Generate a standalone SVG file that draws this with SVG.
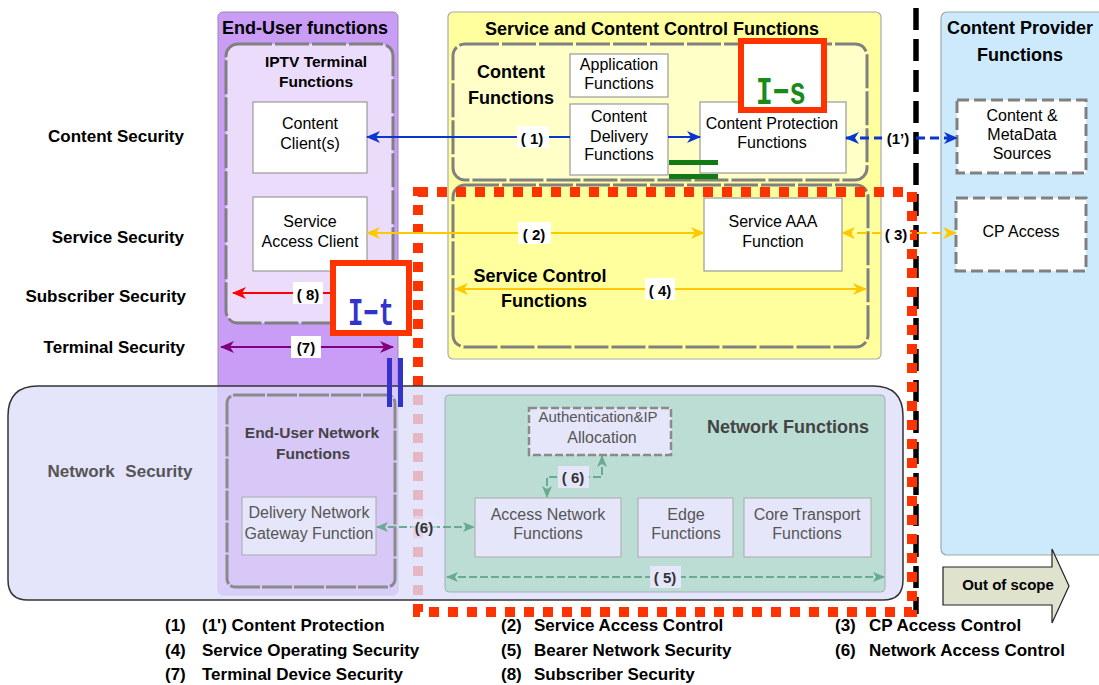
<svg xmlns="http://www.w3.org/2000/svg" width="1099" height="685" viewBox="0 0 1099 685">
<style>
text{font-family:"Liberation Sans",Arial,sans-serif;fill:#000}
.t{font-weight:bold;font-size:18px;text-anchor:middle}
.ts{font-weight:bold;font-size:15.5px;text-anchor:middle}
.n{font-size:16px;text-anchor:middle}
.lab{font-weight:bold;font-size:17px}
.al{font-weight:bold;font-size:15px;text-anchor:middle}
.box{fill:#fff;stroke:#999;stroke-width:1.2}
.dash{stroke:#808080;stroke-width:3;stroke-dasharray:34 3}
.gr{fill:#555}
.nb{fill:#e6e6fb;stroke:#aaa;stroke-width:1}
.lb{fill:#fff}
.big{font-family:"Liberation Mono","DejaVu Sans Mono",monospace;font-weight:bold;font-size:38px;text-anchor:middle}
</style>
<defs>
<marker id="mb" markerUnits="userSpaceOnUse" markerWidth="14" markerHeight="12" refX="13" refY="6" orient="auto-start-reverse"><path d="M0,0 L14,6 L0,12 L4,6 z" fill="#0a36d0"/></marker>
<marker id="my" markerUnits="userSpaceOnUse" markerWidth="14" markerHeight="12" refX="13" refY="6" orient="auto-start-reverse"><path d="M0,0 L14,6 L0,12 L4,6 z" fill="#ffc800"/></marker>
<marker id="mr" markerUnits="userSpaceOnUse" markerWidth="14" markerHeight="12" refX="13" refY="6" orient="auto-start-reverse"><path d="M0,0 L14,6 L0,12 L4,6 z" fill="#ff0000"/></marker>
<marker id="mp" markerUnits="userSpaceOnUse" markerWidth="14" markerHeight="12" refX="13" refY="6" orient="auto-start-reverse"><path d="M0,0 L14,6 L0,12 L4,6 z" fill="#800080"/></marker>
<marker id="mg" markerUnits="userSpaceOnUse" markerWidth="12" markerHeight="10" refX="11" refY="5" orient="auto-start-reverse"><path d="M0,0 L12,5 L0,10 L3,5 z" fill="#6aaa92"/></marker>
</defs>

<!-- left labels -->
<g id="row-labels">
<text class="lab" x="184" y="142" text-anchor="end">Content Security</text>
<text class="lab" x="184" y="243" text-anchor="end">Service Security</text>
<text class="lab" x="186" y="302" text-anchor="end">Subscriber Security</text>
<text class="lab" x="185" y="353" text-anchor="end">Terminal Security</text>
</g>

<!-- Content provider -->
<g id="content-provider">
<rect x="941" y="12" width="200" height="543" rx="6" fill="#cdeafd" stroke="#9aa" stroke-width="1.2"/>
<text class="t" x="1020" y="34">Content Provider</text>
<text class="t" x="1020" y="61">Functions</text>
</g>
<g id="content-metadata">
<rect x="957" y="100" width="129" height="73" fill="#fff" stroke="#808080" stroke-width="3" stroke-dasharray="12 5"/>
<text class="n" x="1022" y="121">Content  &amp;</text>
<text class="n" x="1022" y="140">MetaData</text>
<text class="n" x="1022" y="159">Sources</text>
</g>
<g id="cp-access">
<rect x="956" y="198" width="130" height="73" fill="#fff" stroke="#808080" stroke-width="3" stroke-dasharray="12 5"/>
<text class="n" x="1021" y="237">CP Access</text>
</g>
<g id="out-of-scope">
<path d="M943,567 L1052,567 L1052,549 L1069,586 L1052,623 L1052,605 L943,605 z" fill="#dfe2cd" stroke="#222" stroke-width="1.2"/>
<text x="1008" y="590" font-weight="bold" font-size="15px" text-anchor="middle">Out of scope</text>
</g>

<!-- End user -->
<g id="end-user">
<rect x="218" y="12" width="180" height="583" rx="5" fill="#c99cf6" stroke="#9a8aa8" stroke-width="1"/>
<text class="t" x="305" y="34">End-User functions</text>
</g>
<g id="iptv-terminal">
<rect x="226" y="44" width="167" height="279" rx="12" fill="#ecdcfc" class="dash"/>
<text class="ts" x="316" y="67">IPTV Terminal</text>
<text class="ts" x="316" y="87">Functions</text>
</g>
<g id="content-client">
<rect x="253" y="102" width="114" height="71" class="box"/>
<text class="n" x="310" y="129">Content</text>
<text class="n" x="310" y="149">Client(s)</text>
</g>
<g id="service-access-client">
<rect x="253" y="197" width="114" height="74" class="box"/>
<text class="n" x="310" y="227">Service</text>
<text class="n" x="310" y="247">Access Client</text>
</g>

<!-- Service and content control -->
<g id="service-content-control">
<rect x="448" y="12" width="433" height="347" rx="5" fill="#ffff9e" stroke="#aaa" stroke-width="1.2"/>
<text class="t" x="652" y="35">Service and Content Control Functions</text>
</g>
<g id="content-functions">
<rect x="453" y="44" width="414" height="136" rx="12" fill="#ffffc8" class="dash"/>
<text class="t" x="511" y="78">Content</text>
<text class="t" x="511" y="104">Functions</text>
</g>
<g id="application-functions">
<rect x="570" y="54" width="98" height="43" class="box"/>
<text class="n" x="619" y="70">Application</text>
<text class="n" x="619" y="89">Functions</text>
</g>
<g id="content-delivery">
<rect x="570" y="104" width="98" height="71" class="box"/>
<text class="n" x="619" y="122">Content</text>
<text class="n" x="619" y="142">Delivery</text>
<text class="n" x="619" y="160">Functions</text>
</g>
<g id="content-protection">
<rect x="700" y="102" width="146" height="71" class="box"/>
<text class="n" x="772" y="129">Content Protection</text>
<text class="n" x="772" y="148">Functions</text>
</g>
<g id="service-control">
<rect x="453" y="185" width="415" height="162" rx="12" fill="#ffff9e" class="dash"/>
<text class="t" x="540" y="282">Service Control</text>
<text class="t" x="544" y="307">Functions</text>
</g>
<g id="service-aaa">
<rect x="704" y="198" width="138" height="73" class="box"/>
<text class="n" x="773" y="227">Service AAA</text>
<text class="n" x="773" y="247">Function</text>
</g>

<!-- black dashed boundary -->
<g id="scope-boundary">
<line x1="916" y1="8" x2="916" y2="614" stroke="#000" stroke-width="5.5" stroke-dasharray="22 9"/>
</g>

<!-- red dotted boundary -->
<g id="is-it-boundary">
<rect x="418" y="192" width="494" height="420" fill="none" stroke="#ff3300" stroke-width="10" stroke-dasharray="10 9"/>
</g>

<!-- Network security area -->
<g id="network-security">
<path d="M38,386 L873,386 Q903,386 903,416 L903,580 Q903,600 883,600 L28,600 Q8,600 8,580 L8,416 Q8,386 38,386 z" fill="#dcdcfa" fill-opacity="0.78" stroke="#333" stroke-width="1.5"/>
<text x="120" y="477" font-weight="bold" font-size="17px" text-anchor="middle" style="fill:#555" word-spacing="6">Network Security</text>
</g>
<g id="end-user-network">
<rect x="227" y="395" width="168" height="192" rx="8" fill="#d9c6f8" fill-opacity="0.7" stroke="#8a8a8a" stroke-width="3" stroke-dasharray="30 2"/>
<text class="ts" x="312" y="438" style="fill:#444">End-User Network</text>
<text class="ts" x="313" y="459" style="fill:#444">Functions</text>
</g>
<g id="delivery-gateway">
<rect x="242" y="497" width="134" height="58" class="nb"/>
<text class="n gr" x="309" y="518">Delivery Network</text>
<text class="n gr" x="309" y="539">Gateway Function</text>
</g>
<g id="network-functions">
<rect x="445" y="395" width="440" height="197" rx="4" fill="#b4dccc" fill-opacity="0.85" stroke="#aab" stroke-width="1"/>
<text x="788" y="433" font-weight="bold" font-size="18px" text-anchor="middle" style="fill:#444">Network Functions</text>
</g>
<g id="auth-ip">
<rect x="529" y="408" width="142" height="47" fill="#e6e6fb" stroke="#8a8a8a" stroke-width="2.5" stroke-dasharray="8 3"/>
<text class="n gr" x="598" y="422" font-size="15px" style="font-size:15px">Authentication&amp;IP</text>
<text class="n gr" x="602" y="443">Allocation</text>
</g>
<g id="access-network">
<rect x="475" y="498" width="146" height="59" class="nb"/>
<text class="n gr" x="548" y="520">Access Network</text>
<text class="n gr" x="548" y="539">Functions</text>
</g>
<g id="edge-functions">
<rect x="638" y="498" width="95" height="59" class="nb"/>
<text class="n gr" x="686" y="520">Edge</text>
<text class="n gr" x="686" y="539">Functions</text>
</g>
<g id="core-transport">
<rect x="744" y="498" width="127" height="59" class="nb"/>
<text class="n gr" x="807" y="520">Core Transport</text>
<text class="n gr" x="807" y="539">Functions</text>
</g>

<!-- interfaces -->
<g id="interface-is">
<rect x="741" y="41" width="83" height="69" fill="#fff" stroke="#ff3300" stroke-width="6"/>
<text class="big" x="781" y="104" style="fill:#1a8a1a" textLength="50" lengthAdjust="spacingAndGlyphs">I−s</text>
<rect x="669" y="160" width="49" height="5" fill="#127a12"/>
<rect x="669" y="174" width="49" height="5" fill="#127a12"/>
</g>
<g id="interface-it">
<rect x="333" y="263" width="76" height="70" fill="#fff" stroke="#ff3300" stroke-width="6"/>
<text class="big" x="371" y="325" style="fill:#3333cc" textLength="46" lengthAdjust="spacingAndGlyphs">I−t</text>
<rect x="387" y="358" width="5" height="49" fill="#3333cc"/>
<rect x="398" y="358" width="5" height="49" fill="#3333cc"/>
</g>

<!-- connectors -->
<g id="connectors">
<line x1="367" y1="137" x2="570" y2="137" stroke="#0a36d0" stroke-width="2" marker-start="url(#mb)"/>
<line x1="668" y1="137" x2="700" y2="137" stroke="#0a36d0" stroke-width="2" marker-end="url(#mb)"/>
<line x1="846" y1="138" x2="957" y2="138" stroke="#0a36d0" stroke-width="3" stroke-dasharray="9 5" marker-start="url(#mb)" marker-end="url(#mb)"/>
<line x1="367" y1="233" x2="704" y2="233" stroke="#ffc800" stroke-width="2" marker-start="url(#my)" marker-end="url(#my)"/>
<line x1="842" y1="233" x2="956" y2="233" stroke="#ffc800" stroke-width="2" stroke-dasharray="10 5" marker-start="url(#my)" marker-end="url(#my)"/>
<line x1="455" y1="289" x2="866" y2="289" stroke="#ffc800" stroke-width="2" marker-start="url(#my)" marker-end="url(#my)"/>
<line x1="330" y1="293" x2="233" y2="293" stroke="#ff0000" stroke-width="2" marker-end="url(#mr)"/>
<line x1="221" y1="347" x2="393" y2="347" stroke="#800080" stroke-width="2" marker-start="url(#mp)" marker-end="url(#mp)"/>
<line x1="377" y1="527" x2="474" y2="527" stroke="#6aaa92" stroke-width="2" stroke-dasharray="8 3" marker-start="url(#mg)" marker-end="url(#mg)"/>
<polyline points="547,497 547,477 602,477 602,456" fill="none" stroke="#6aaa92" stroke-width="2" stroke-dasharray="8 3" marker-start="url(#mg)" marker-end="url(#mg)"/>
<line x1="447" y1="577" x2="884" y2="577" stroke="#6aaa92" stroke-width="2" stroke-dasharray="8 3" marker-start="url(#mg)" marker-end="url(#mg)"/>

<rect class="lb" x="517" y="126" width="32" height="22"/><text class="al" x="532" y="144">( 1)</text>
<rect class="lb" x="882" y="127" width="31" height="22"/><text class="al" x="898" y="144">(1’)</text>
<rect class="lb" x="518" y="222" width="33" height="22"/><text class="al" x="534" y="240">( 2)</text>
<rect class="lb" x="882" y="222" width="28" height="22"/><text class="al" x="896" y="240">( 3)</text>
<rect class="lb" x="645" y="278" width="30" height="22"/><text class="al" x="660" y="296">( 4)</text>
<rect class="lb" x="293" y="282" width="30" height="22"/><text class="al" x="308" y="300">( 8)</text>
<rect class="lb" x="291" y="336" width="30" height="22"/><text class="al" x="306" y="353">(7)</text>
<rect x="411" y="516" width="26" height="22" fill="#e6e6fb" fill-opacity="0.6"/><text class="al" x="424" y="533" style="fill:#333">(6)</text>
<rect x="558" y="466" width="31" height="22" fill="#e6e6fb"/><text class="al" x="573" y="483" style="fill:#333">( 6)</text>
<rect x="650" y="566" width="31" height="22" fill="#e6e6fb"/><text class="al" x="665" y="583" style="fill:#333">( 5)</text>
</g>

<!-- legend -->
<g id="legend">
<text class="lab" x="165" y="631">(1)</text><text class="lab" x="202" y="631">(1') Content Protection</text>
<text class="lab" x="165" y="656">(4)</text><text class="lab" x="202" y="656">Service Operating Security</text>
<text class="lab" x="165" y="680">(7)</text><text class="lab" x="202" y="680">Terminal Device Security</text>
<text class="lab" x="501" y="631">(2)</text><text class="lab" x="534" y="631">Service Access Control</text>
<text class="lab" x="501" y="656">(5)</text><text class="lab" x="534" y="656">Bearer Network Security</text>
<text class="lab" x="501" y="680">(8)</text><text class="lab" x="534" y="680">Subscriber Security</text>
<text class="lab" x="835" y="631">(3)</text><text class="lab" x="869" y="631">CP Access Control</text>
<text class="lab" x="835" y="656">(6)</text><text class="lab" x="869" y="656">Network Access Control</text>
</g>
</svg>
